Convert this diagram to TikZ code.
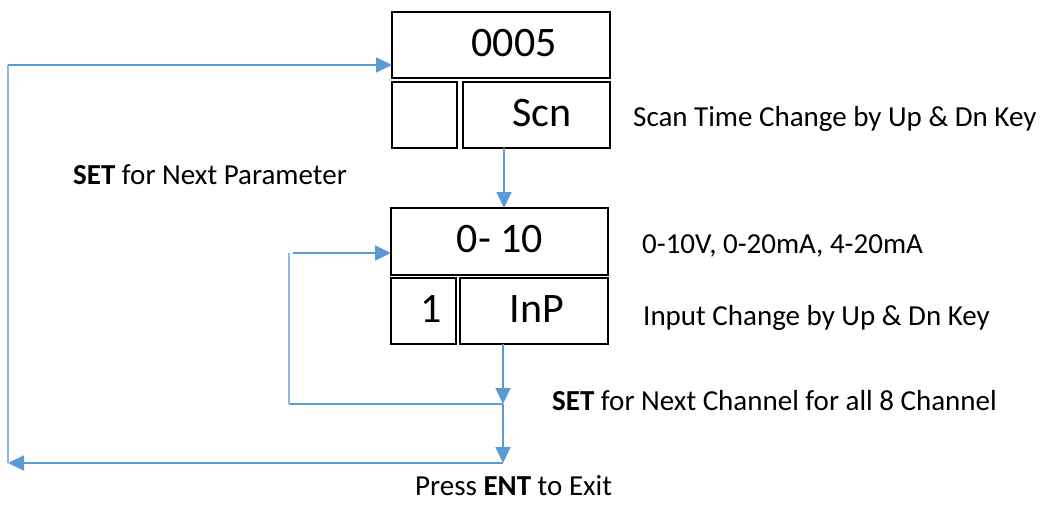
\documentclass[tikz,border=0pt]{standalone}
\usepackage{fontspec}
\setmainfont{Carlito}
\usetikzlibrary{arrows.meta}
\definecolor{arrblue}{HTML}{5B9BD5}
\definecolor{lightblue}{HTML}{8FB9E3}
\tikzset{
  box/.style={draw=black, line width=1.6pt, inner sep=0pt, minimum height=66pt},
  seg/.style={inner sep=0pt, font=\fontsize{42}{46}\selectfont},
  lbl/.style={inner sep=0pt, anchor=base west, font=\fontsize{29}{33}\selectfont},
  arr/.style={draw=arrblue, line width=1.8pt, -{Triangle[length=16pt,width=15pt]}},
  plain/.style={draw=arrblue, line width=1.8pt},
  thin/.style={draw=lightblue, line width=1.2pt}
}
\begin{document}
\begin{tikzpicture}[x=1pt,y=-1pt]
\useasboundingbox (0,0) rectangle (1045,504);
% boxes
\node[box, minimum width=218pt] (A) at (501,45) {};
\node[box, minimum width=65pt] (B) at (424.5,115) {};
\node[box, minimum width=147pt] (C) at (536.5,115) {};
\node[box, minimum width=217pt, minimum height=67pt] (D) at (499.5,241.5) {};
\node[box, minimum width=65pt] (E) at (423.5,311) {};
\node[box, minimum width=148pt] (F) at (534,311) {};
% display texts
\node[seg] (tA) at (514,43) {0005};
\node[seg] (tC) at (542,113) {Scn};
\node[seg] (tD) at (500,239) {0- 10};
\node[seg] (tE) at (431,309) {1};
\node[seg] (tF) at (537,309) {InP};
% labels
\node[lbl] (l1) at (633,126) {Scan Time Change by Up \& Dn Key};
\node[lbl] (l2) at (73,184) {\textbf{SET} for Next Parameter};
\node[lbl] (l3) at (642,253) {0-10V, 0-20mA, 4-20mA};
\node[lbl] (l4) at (643,325) {Input Change by Up \& Dn Key};
\node[lbl] (l5) at (552,410) {\textbf{SET} for Next Channel for all 8 Channel};
\node[lbl] (l6) at (415,495) {Press \textbf{ENT} to Exit};
% connector points
\coordinate (c1) at (504,148);
\coordinate (c2) at (504,208);
\coordinate (f1) at (503,344);
\coordinate (j1) at (503,404);
\coordinate (j2) at (503,463);
\coordinate (k1) at (289,404);
\coordinate (k2) at (289,253);
\coordinate (k3) at (293,253);
\coordinate (d1) at (391,253);
\coordinate (o1) at (8,463);
\coordinate (o2) at (8,65);
\coordinate (a1) at (392,65);
% connectors
\draw[arr] (c1) -- (c2);
\draw[arr] (f1) -- (j1);
\draw[arr] (j1) -- (j2);
\draw[plain] (j1) -- (k1);
\draw[thin] (k1) -- (k2);
\draw[arr] (k3) -- (d1);
\draw[arr] (j2) -- (o1);
\draw[thin] (o1) -- (o2);
\draw[arr] (o2) -- (a1);
\end{tikzpicture}
\end{document}
